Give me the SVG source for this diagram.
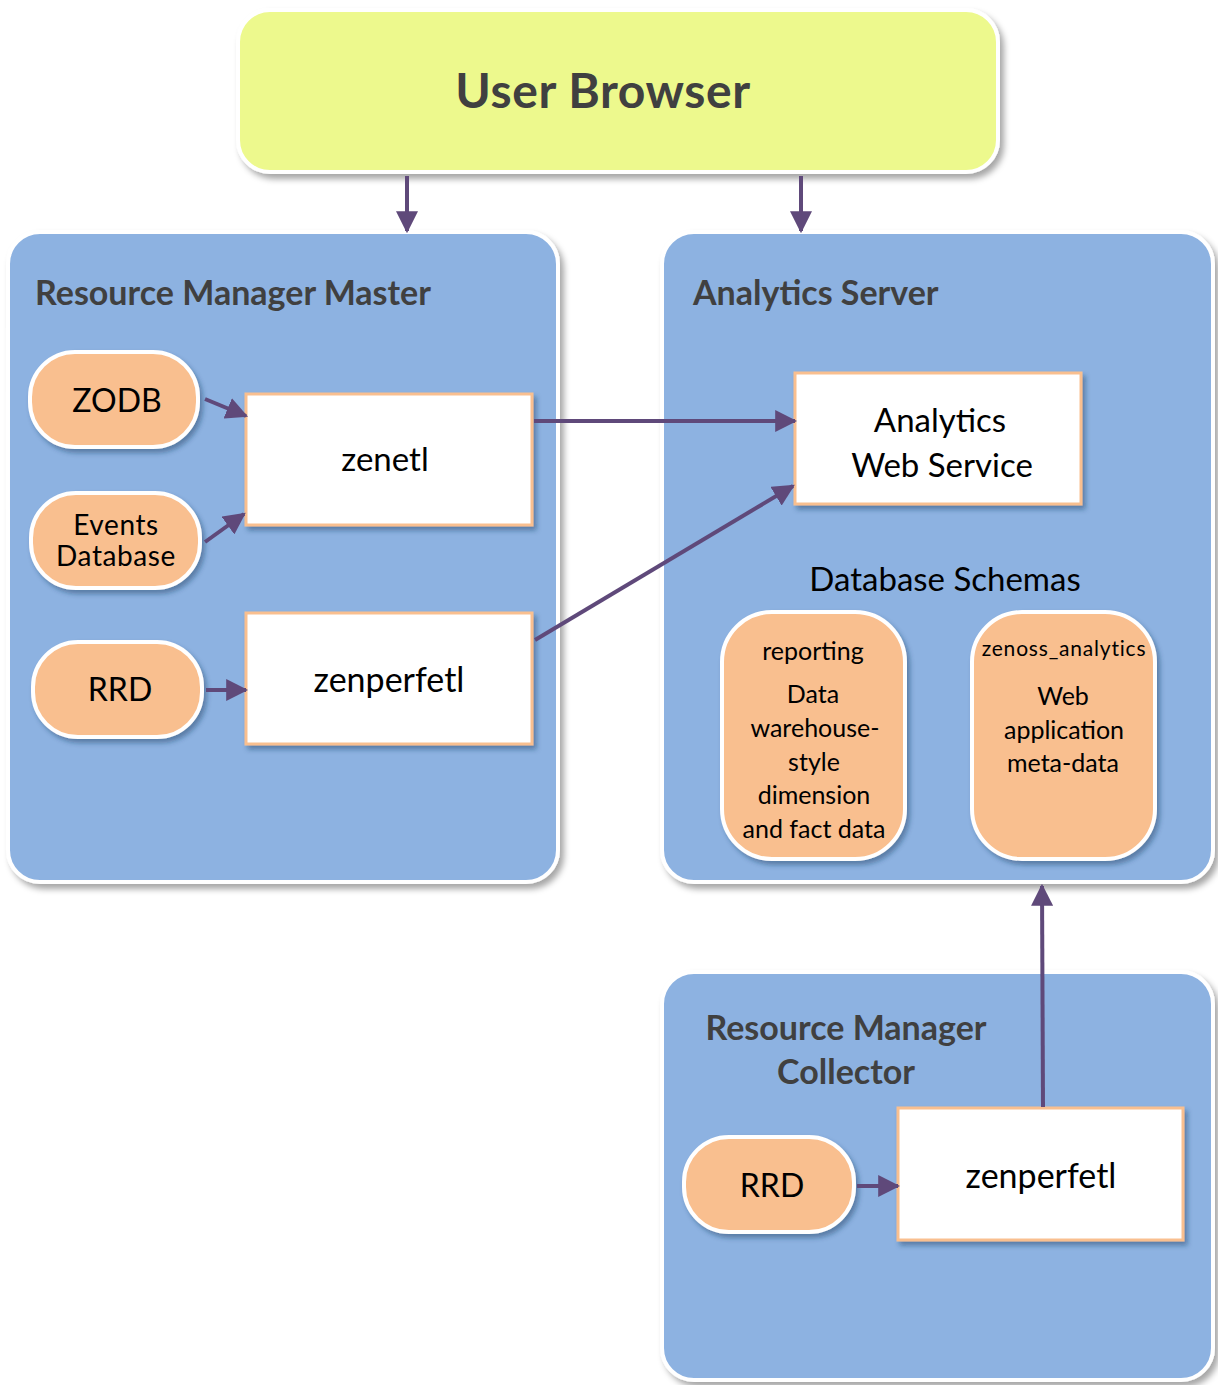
<svg xmlns="http://www.w3.org/2000/svg" width="1218" height="1385" viewBox="0 0 1218 1385">
<defs>
<filter id="sh" x="-10%" y="-10%" width="125%" height="125%">
<feDropShadow dx="4" dy="5" stdDeviation="3" flood-color="#000" flood-opacity="0.35"/>
</filter>
<filter id="shs" x="-10%" y="-10%" width="125%" height="125%">
<feDropShadow dx="3" dy="4" stdDeviation="2.5" flood-color="#1F3A5F" flood-opacity="0.45"/>
</filter>
<marker id="ah" viewBox="0 0 10 10" refX="9" refY="5" markerWidth="5.5" markerHeight="5.5" orient="auto" markerUnits="strokeWidth">
<path d="M0,0 L10,5 L0,10 Z" fill="#5F497A"/>
</marker>
<style>
.cont{fill:#8DB2E1;stroke:#FFFFFF;stroke-width:4;filter:url(#sh)}
.pill{fill:#F9BF8F;stroke:#FFFFFF;stroke-width:4;filter:url(#shs)}
.box{fill:#FFFFFF;stroke:#F9BF8F;stroke-width:3;filter:url(#shs)}
.title{font-family:Lato,"Open Sans",sans-serif;font-weight:bold;font-size:34px;fill:#404040}
.t{font-family:Lato,"Open Sans",sans-serif;fill:#000;text-anchor:middle}
.conn{stroke:#5F497A;stroke-width:4;fill:none;marker-end:url(#ah)}
</style>
</defs>
<rect width="1218" height="1385" fill="#FFFFFF"/>

<g id="user-browser">
<rect x="238" y="10" width="760" height="162" rx="32" fill="#EDF98D" stroke="#FFFFFF" stroke-width="4" filter="url(#sh)"/>
<text x="603" y="108" text-anchor="middle" font-family="Lato,'Open Sans',sans-serif" font-weight="bold" font-size="48" letter-spacing="0.6" fill="#404040">User Browser</text>
</g>

<g id="rm-master">
<rect class="cont" x="8" y="232" width="550" height="650" rx="32"/>
<text class="title" x="35" y="305">Resource Manager Master</text>
</g>

<g id="analytics-server">
<rect class="cont" x="662" y="232" width="551" height="650" rx="32"/>
<text class="title" x="693" y="305">Analytics Server</text>
</g>

<g id="rm-collector">
<rect class="cont" x="662" y="972" width="551" height="408" rx="32"/>
<text class="title" x="846" y="1040" text-anchor="middle">Resource Manager</text>
<text class="title" x="846" y="1084" text-anchor="middle">Collector</text>
</g>

<g id="zodb">
<rect class="pill" x="30" y="352" width="168" height="95" rx="45"/>
<text class="t" x="117" y="412" font-size="32">ZODB</text>
</g>

<g id="events-db">
<rect class="pill" x="31" y="493" width="169" height="95" rx="45"/>
<text class="t" x="116" y="535" font-size="28" letter-spacing="0.6">Events</text>
<text class="t" x="116" y="566" font-size="28" letter-spacing="0.6">Database</text>
</g>

<g id="rrd-master">
<rect class="pill" x="33" y="642" width="169" height="95" rx="45"/>
<text class="t" x="120" y="701" font-size="32">RRD</text>
</g>

<g id="zenetl">
<rect class="box" x="246" y="394" width="286" height="131"/>
<text class="t" x="385" y="471" font-size="33">zenetl</text>
</g>

<g id="zenperfetl-master">
<rect class="box" x="246" y="613" width="286" height="131"/>
<text class="t" x="389" y="692" font-size="34">zenperfetl</text>
</g>

<g id="analytics-web-service">
<rect class="box" x="795" y="373" width="286" height="131"/>
<text class="t" x="940" y="432" font-size="33">Analytics</text>
<text class="t" x="942" y="477" font-size="33">Web Service</text>
</g>

<g id="database-schemas-label">
<text class="t" x="945" y="591" font-size="33">Database Schemas</text>
</g>

<g id="reporting">
<rect class="pill" x="722" y="612" width="183" height="247" rx="50"/>
<text class="t" x="813" y="660" font-size="25">reporting</text>
<text class="t" x="813" y="703" font-size="25">Data</text>
<text class="t" x="815" y="737" font-size="25">warehouse-</text>
<text class="t" x="814" y="771" font-size="25">style</text>
<text class="t" x="814" y="804" font-size="25">dimension</text>
<text class="t" x="814" y="838" font-size="25">and fact data</text>
</g>

<g id="zenoss-analytics">
<rect class="pill" x="972" y="612" width="183" height="247" rx="50"/>
<text class="t" x="1064" y="656" font-size="21" letter-spacing="0.8">zenoss_analytics</text>
<text class="t" x="1063" y="705" font-size="25">Web</text>
<text class="t" x="1064" y="739" font-size="25">application</text>
<text class="t" x="1063" y="772" font-size="25">meta-data</text>
</g>

<g id="rrd-collector">
<rect class="pill" x="684" y="1137" width="170" height="95" rx="45"/>
<text class="t" x="772" y="1197" font-size="32">RRD</text>
</g>

<g id="zenperfetl-collector">
<rect class="box" x="898" y="1108" width="285" height="132"/>
<text class="t" x="1041" y="1188" font-size="34">zenperfetl</text>
</g>

<g id="connectors">
<line class="conn" x1="407" y1="176" x2="407" y2="231"/>
<line class="conn" x1="801" y1="176" x2="801" y2="231"/>
<line class="conn" x1="205" y1="399" x2="246" y2="416"/>
<line class="conn" x1="205" y1="542" x2="244" y2="514"/>
<line class="conn" x1="206" y1="690" x2="246" y2="690"/>
<line class="conn" x1="534" y1="421" x2="795" y2="421"/>
<line class="conn" x1="535" y1="640" x2="793" y2="486"/>
<line class="conn" x1="1043" y1="1107" x2="1042" y2="886"/>
<line class="conn" x1="857" y1="1186" x2="898" y2="1186"/>
</g>
</svg>
